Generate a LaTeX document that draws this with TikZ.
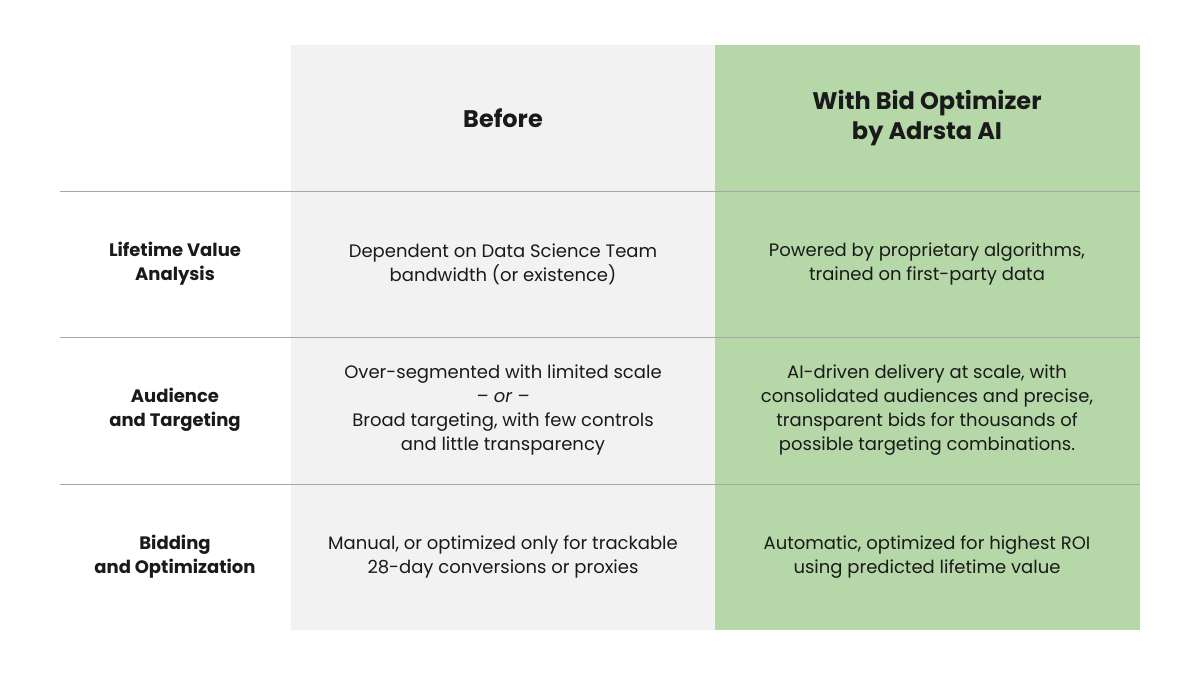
\documentclass[tikz,border=0pt]{standalone}
\usepackage{fontspec}
\setmainfont{Poppins}
\definecolor{graybg}{HTML}{F2F2F2}
\definecolor{greenbg}{HTML}{B6D7A8}
\definecolor{rule}{HTML}{A6A6A6}
\definecolor{txt}{HTML}{1A1A1A}
\begin{document}
\begin{tikzpicture}[x=1pt,y=-1pt,
  cell/.style={align=center,text=txt,font=\fontsize{18}{24}\selectfont},
  lab/.style={align=center,text=txt,font=\fontsize{18}{24}\selectfont\bfseries},
  head/.style={align=center,text=txt,font=\fontsize{24}{30}\selectfont\bfseries}]
\useasboundingbox (0,0) rectangle (1200,675);
\fill[white] (0,0) rectangle (1200,675);
\fill[graybg] (291,45) rectangle (715,630);
\fill[greenbg] (715,45) rectangle (1140,630);
\foreach \y in {191,337,484} \draw[rule,line width=1pt] (60,\y) -- (1140,\y);
\node[head] (h1) at (503,118) {Before};
\node[head] (h2) at (927,118) {With Bid Optimizer\\by Adrsta AI};
\node[lab] (l1) at (175,264) {Lifetime Value\\Analysis};
\node[lab] (l2) at (175,410) {Audience\\and Targeting};
\node[lab] (l3) at (175,557) {Bidding\\and Optimization};
\node[cell] (b1) at (503,264) {Dependent on Data Science Team\\bandwidth (or existence)};
\node[cell] (b2) at (503,410) {Over-segmented with limited scale\\\textit{– or –}\\Broad targeting, with few controls\\and little transparency};
\node[cell] (b3) at (503,557) {Manual, or optimized only for trackable\\28-day conversions or proxies};
\node[cell] (g1) at (927,264) {Powered by proprietary algorithms,\\trained on first-party data};
\node[cell] (g2) at (927,410) {AI-driven delivery at scale, with\\consolidated audiences and precise,\\transparent bids for thousands of\\possible targeting combinations.};
\node[cell] (g3) at (927,557) {Automatic, optimized for highest ROI\\using predicted lifetime value};
\end{tikzpicture}
\end{document}
